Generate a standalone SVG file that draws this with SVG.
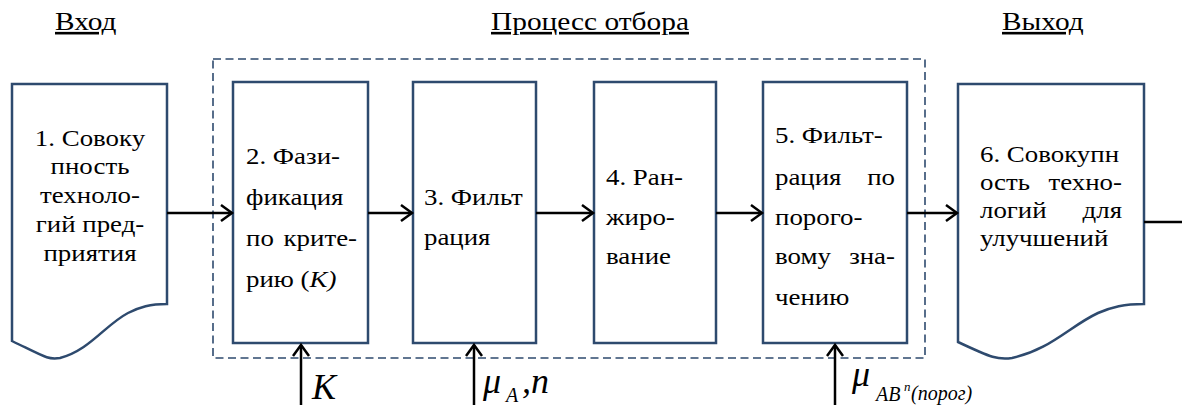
<svg xmlns="http://www.w3.org/2000/svg" width="1182" height="405" viewBox="0 0 1182 405">
<defs>
<marker id="a" markerUnits="userSpaceOnUse" markerWidth="16" markerHeight="20" refX="12" refY="9" orient="auto">
<path d="M1,1 L12,9 L1,17" fill="none" stroke="#000" stroke-width="2.5"/>
</marker>
</defs>
<g id="titles">
<text style="font-family:'Liberation Serif' !important" font-size="26" text-decoration="underline" transform="matrix(1.13 0 0 1 55 30)">Вход</text>
<text style="font-family:'Liberation Serif' !important" font-size="26" text-decoration="underline" transform="matrix(1.13 0 0 1 491 30)">Процесс отбора</text>
<text style="font-family:'Liberation Serif' !important" font-size="26" text-decoration="underline" transform="matrix(1.13 0 0 1 1002 30)">Выход</text>
</g>
<g id="process-frame">
<rect x="213" y="59" width="712" height="299" fill="none" stroke="#2E4A6E" stroke-width="1.6" stroke-dasharray="8 4.5"/>
</g>
<g id="node1">
<path d="M12,84 H167 V304 C150,304 140,307 128,313 C105,325 90,350 60,358 C48,360 45,357 12,341 Z" fill="#fff" stroke="#2E4A6E" stroke-width="2.5"/>
<text style="font-family:'Liberation Serif' !important" font-size="24" text-anchor="middle" transform="matrix(1.12 0 0 1 90 146)">1. Совоку</text>
<text style="font-family:'Liberation Serif' !important" font-size="24" text-anchor="middle" transform="matrix(1.12 0 0 1 90 174)">пность</text>
<text style="font-family:'Liberation Serif' !important" font-size="24" text-anchor="middle" transform="matrix(1.12 0 0 1 90 203)">техноло-</text>
<text style="font-family:'Liberation Serif' !important" font-size="24" text-anchor="middle" transform="matrix(1.12 0 0 1 90 232)">гий пред-</text>
<text style="font-family:'Liberation Serif' !important" font-size="24" text-anchor="middle" transform="matrix(1.12 0 0 1 90 261)">приятия</text>
</g>
<g id="node2">
<rect x="233" y="82" width="135" height="261" fill="#fff" stroke="#2E4A6E" stroke-width="2.5"/>
<text style="font-family:'Liberation Serif' !important" font-size="24" transform="matrix(1.12 0 0 1 246 164)">2. Фази-</text>
<text style="font-family:'Liberation Serif' !important" font-size="24" transform="matrix(1.12 0 0 1 246 205)">фикация</text>
<text style="font-family:'Liberation Serif' !important" font-size="24" transform="matrix(1.12 0 0 1 246 246)">по</text>
<text style="font-family:'Liberation Serif' !important" font-size="24" text-anchor="end" transform="matrix(1.12 0 0 1 357 246)">крите-</text>
<text style="font-family:'Liberation Serif' !important" font-size="24" transform="matrix(1.12 0 0 1 246 287)">рию (<tspan font-style="italic">K)</tspan></text>
</g>
<g id="node3">
<rect x="413" y="82" width="123" height="261" fill="#fff" stroke="#2E4A6E" stroke-width="2.5"/>
<text style="font-family:'Liberation Serif' !important" font-size="24" transform="matrix(1.12 0 0 1 424 205)">3. Фильт</text>
<text style="font-family:'Liberation Serif' !important" font-size="24" transform="matrix(1.12 0 0 1 424 245)">рация</text>
</g>
<g id="node4">
<rect x="594" y="82" width="122" height="261" fill="#fff" stroke="#2E4A6E" stroke-width="2.5"/>
<text style="font-family:'Liberation Serif' !important" font-size="24" transform="matrix(1.12 0 0 1 606 185)">4. Ран-</text>
<text style="font-family:'Liberation Serif' !important" font-size="24" transform="matrix(1.12 0 0 1 606 225)">жиро-</text>
<text style="font-family:'Liberation Serif' !important" font-size="24" transform="matrix(1.12 0 0 1 606 264)">вание</text>
</g>
<g id="node5">
<rect x="763" y="82" width="144" height="261" fill="#fff" stroke="#2E4A6E" stroke-width="2.5"/>
<text style="font-family:'Liberation Serif' !important" font-size="24" transform="matrix(1.12 0 0 1 775 143)">5. Фильт-</text>
<text style="font-family:'Liberation Serif' !important" font-size="24" transform="matrix(1.12 0 0 1 775 185)">рация</text>
<text style="font-family:'Liberation Serif' !important" font-size="24" text-anchor="end" transform="matrix(1.12 0 0 1 895 185)">по</text>
<text style="font-family:'Liberation Serif' !important" font-size="24" transform="matrix(1.12 0 0 1 775 225)">порого-</text>
<text style="font-family:'Liberation Serif' !important" font-size="24" transform="matrix(1.12 0 0 1 775 264)">вому</text>
<text style="font-family:'Liberation Serif' !important" font-size="24" text-anchor="end" transform="matrix(1.12 0 0 1 895 264)">зна-</text>
<text style="font-family:'Liberation Serif' !important" font-size="24" transform="matrix(1.12 0 0 1 775 305)">чению</text>
</g>
<g id="node6">
<path d="M958,84 H1144 V304 C1124,304 1112,307 1098,313 C1070,326 1050,350 1012,358 C998,360 992,358 958,342 Z" fill="#fff" stroke="#2E4A6E" stroke-width="2.5"/>
<text style="font-family:'Liberation Serif' !important" font-size="24" transform="matrix(1.12 0 0 1 980 162)">6. Совокупн</text>
<text style="font-family:'Liberation Serif' !important" font-size="24" transform="matrix(1.12 0 0 1 980 190)">ость</text>
<text style="font-family:'Liberation Serif' !important" font-size="24" text-anchor="end" transform="matrix(1.12 0 0 1 1122 190)">техно-</text>
<text style="font-family:'Liberation Serif' !important" font-size="24" transform="matrix(1.12 0 0 1 980 218)">логий</text>
<text style="font-family:'Liberation Serif' !important" font-size="24" text-anchor="end" transform="matrix(1.12 0 0 1 1122 218)">для</text>
<text style="font-family:'Liberation Serif' !important" font-size="24" transform="matrix(1.12 0 0 1 980 246)">улучшений</text>
</g>
<g id="connectors" stroke="#000" stroke-width="2.5" fill="none">
<line x1="167" y1="213" x2="232" y2="213" marker-end="url(#a)"/>
<line x1="368" y1="213" x2="412" y2="213" marker-end="url(#a)"/>
<line x1="536" y1="213" x2="593" y2="213" marker-end="url(#a)"/>
<line x1="716" y1="213" x2="762" y2="213" marker-end="url(#a)"/>
<line x1="907" y1="213" x2="957" y2="213" marker-end="url(#a)"/>
<line x1="1144" y1="222" x2="1182" y2="222"/>
<line x1="301" y1="405" x2="301" y2="345" marker-end="url(#a)"/>
<line x1="474" y1="405" x2="474" y2="345" marker-end="url(#a)"/>
<line x1="835" y1="405" x2="835" y2="345" marker-end="url(#a)"/>
</g>
<g id="labels">
<text style="font-family:'Liberation Serif' !important" font-style="italic" x="312" y="399" font-size="36">K</text>
<text style="font-family:'Liberation Serif' !important" font-style="italic" x="483" y="393" font-size="36">μ</text>
<text style="font-family:'Liberation Serif' !important" font-style="italic" x="506" y="402" font-size="20">A</text>
<text style="font-family:'Liberation Serif' !important" font-style="italic" x="522" y="393" font-size="36">,n</text>
<text style="font-family:'Liberation Serif' !important" font-style="italic" x="852" y="386" font-size="36">μ</text>
<text style="font-family:'Liberation Serif' !important" font-style="italic" x="876" y="401" font-size="20">AB</text>
<text style="font-family:'Liberation Serif' !important" font-style="italic" x="904" y="391" font-size="13">n</text>
<text style="font-family:'Liberation Serif' !important" font-style="italic" x="911" y="400" font-size="20">(порог)</text>
</g>
</svg>
